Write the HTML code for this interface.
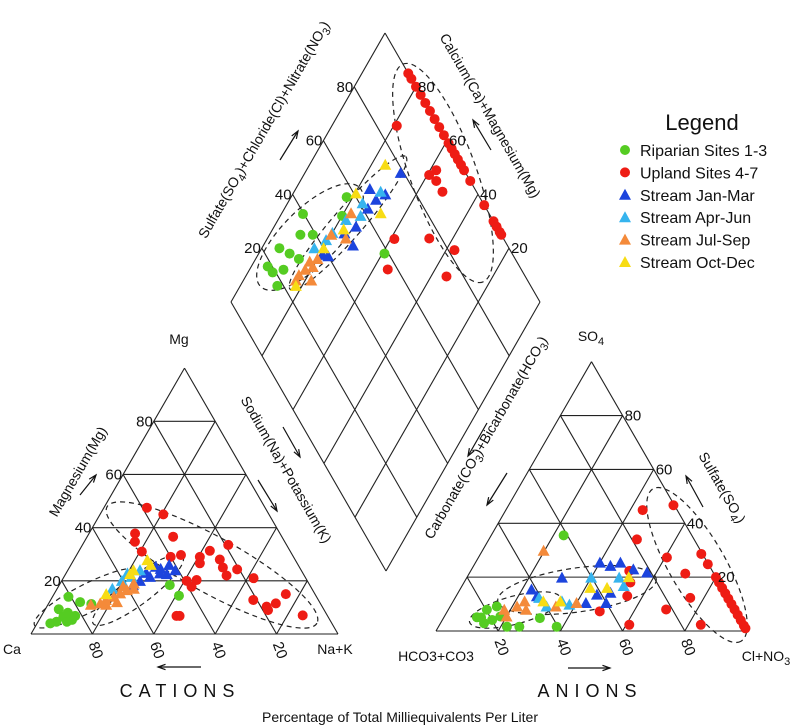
<!DOCTYPE html>
<html><head><meta charset="utf-8"><style>
body{margin:0;background:#fff;}
svg{display:block;font-family:"Liberation Sans",Arial,sans-serif;}
</style></head><body>
<svg id="c" width="800" height="728" viewBox="0 0 800 728"></svg>
<script>
// ---- Data (percentages) ----
// Cation triangle: [Na+K %, Mg %]
const catRiparian=[[36,18.4],[41,14.4],[5.2,14],[10,12],[14,11.3],[4.4,9.3],[7.3,6.5],[11,6.8],[4.3,4],[6,4.6],[10.7,5.3],[9.4,4.6],[8,8]];
const catUpland=[[14,47.5],[20.6,45],[15,37.8],[16.5,34.7],[28,36.6],[20.6,31],[31,29],[34,29.7],[40.5,29],[42.6,31.3],[41.7,26.6],[47.5,28],[47.5,33.5],[50,25],[52.7,22],[55,24.3],[40.7,20],[43.8,20.3],[43.4,17.8],[45,6.8],[44,6.8],[62,21],[66,12.8],[71.6,10.3],[74,11.5],[75.5,15],[85,7],[72.7,9]];
const catJanMar=[[28,21.5],[30.6,22.8],[32,26],[35,24],[33,22.5],[25.5,20],[24,18.4],[28,25.3],[26,23],[30,24.5]];
const catAprJun=[[20,22.8],[19.6,20],[22,21.5],[18,17],[23.5,24]];
const catJulSep=[[16.8,11.5],[18,12.8],[20,14],[21.4,15.3],[23,16.5],[24,19],[22,12],[19,11],[14,11],[21,18],[25,17]];
const catOctDec=[[24,27.8],[21,22.5],[21.4,24],[17,15],[26,26]];
// Anion triangle: [Cl+NO3 %, SO4 %]
const anRiparian=[[23.3,35.5],[10.6,5.1],[12.4,7.9],[15,9.1],[16,4.1],[22,1.6],[26,1.6],[31,4.8],[38,1.6],[14,2.9],[18,5.4],[12,5]];
const anUpland=[[44,44.9],[53,46.7],[47.6,34],[71,28.6],[75,24.8],[60.6,27.3],[69.5,21.3],[75.6,12.3],[70,8],[84,2.3],[61,2.3],[53.5,18],[55,13],[49,7.3],[51,22.3],[80,20],[82,18],[84,16],[86,14],[88,12],[90,10],[92,8],[94,6],[96,4],[98,2],[99,1]];
const anJanMar=[[40,25.4],[44,24.2],[46.6,25.4],[57,21.7],[30.6,19.8],[23,15.4],[26,12.9],[45,13.5],[49,14.2],[43,10.4],[49.5,10.4],[52,22.9]];
const anAprJun=[[40,19.8],[31,9.1],[38,9.8],[49,19.8],[52,16.7],[27,12.3],[35,11]];
const anJulSep=[[19.7,29.8],[20,5.4],[21.5,9.1],[25,7.9],[34,9.1],[40,10.4],[18,7.9],[23,11]];
const anOctDec=[[41.6,16],[47,16],[34.5,11],[52,20],[29,11]];
// Diamond: [SO4+Cl+NO3 %, Ca+Mg %]
const diaRiparian=[[58.7,59.3],[18.5,94.7],[25.7,94.3],[28,90],[39.7,93],[35,90],[39,86],[57,82],[52,80],[19,92],[18,88],[23,89],[30,86]];
const diaUpland=[[100,85],[100,83],[100,80],[100,77],[100,74],[100,71],[100,68],[100,65],[100,62],[100,59],[100,57],[100,55],[100,53],[100,51],[100,49],[100,45],[100,36],[100,30],[100,28],[100,26],[100,25],[86.5,79],[87.8,59.4],[91,58],[89,56],[89,52],[64.6,58.8],[76,47.6],[82,37.3],[56.8,55.3],[74.5,35]];
const diaJanMar=[[66,76],[70,70],[79,69],[66,72],[61.7,73],[54.5,73.5],[49.5,76],[50,71],[38.5,79],[40,77]];
const diaAprJun=[[69,72],[61,75.7],[52.5,78],[45.7,80],[42.3,80.7],[37,83],[58,74]];
const diaJulSep=[[55.4,77.6],[49,74.6],[45,80],[36,80],[33,80],[30,82],[27,83],[25,83],[30,78],[33,82]];
const diaOctDec=[[75.5,75.5],[60.7,79.7],[65,68],[50,77],[40,80],[24,82]];

const legendLabels=["Riparian Sites 1-3","Upland Sites 4-7","Stream Jan-Mar","Stream Apr-Jun","Stream Jul-Sep","Stream Oct-Dec"];
const ticks=[20,40,60,80];

// ---- geometry ----
const NS="http://www.w3.org/2000/svg";
const svg=document.getElementById('c');
function mk(tag,attrs,parent){const e=document.createElementNS(NS,tag);for(const k in attrs)e.setAttribute(k,attrs[k]);(parent||svg).appendChild(e);return e;}
const colors=["#55cc22","#ee1c14","#1c44dd","#36b4ee","#f48a3a","#f7dc14"];
const shapes=["c","c","t","t","t","t"];

const L={x0:31,y0:634,w:307}; L.h=L.w*0.866;
const R={x0:436,y0:631,w:311}; R.h=R.w*0.866;
const D={bx:386,by:571,rx:154,ry:-269,lx:-155,ly:-269};

function triXY(T,a,b){ // a = right-axis %, b = top %
  return [T.x0+T.w*(a/100+b/200), T.y0-T.h*b/100];}
function diaXY(u,v){return [D.bx+D.rx*u/100+D.lx*v/100, D.by+D.ry*u/100+D.ly*v/100];}

const grid=mk('g',{stroke:'#222','stroke-width':'1.1',fill:'none'});
function line(p,q,g){mk('line',{x1:p[0],y1:p[1],x2:q[0],y2:q[1]},g);}
function drawTri(T,name){
  const g=mk('g',{},grid);
  line(triXY(T,0,0),triXY(T,100,0),g);line(triXY(T,100,0),triXY(T,0,100),g);line(triXY(T,0,100),triXY(T,0,0),g);
  ticks.forEach(t=>{
    line(triXY(T,0,t),triXY(T,100-t,t),g);
    line(triXY(T,t,0),triXY(T,t,100-t),g);
    line(triXY(T,t,0),triXY(T,0,t),g);
  });
}
drawTri(L,'cation-triangle');drawTri(R,'anion-triangle');
(function(){
  const g=mk('g',{},grid);
  [0,20,40,60,80,100].forEach(t=>{line(diaXY(t,0),diaXY(t,100),g);line(diaXY(0,t),diaXY(100,t),g);});
})();

// ellipses (annotation)
const eg=mk('g',{fill:'none',stroke:'#222','stroke-width':'1.2','stroke-dasharray':'5,4'});
[[310,237,70,28,-45],[348,223,88,15,-49],[443,173,116,33,70],
 [212,565,120,28,29],[88,598,60,14,-27],[138,590,56,14,-37],
 [697,565,88,28,60],[577,590,80,22,-8],[515,610,47,14,-15]].forEach(e=>{
  const el=mk('ellipse',{cx:e[0],cy:e[1],rx:e[2],ry:e[3],transform:`rotate(${e[4]} ${e[0]} ${e[1]})`},eg);
  
  
});

function marker(x,y,k,g){
  let el;
  if(shapes[k]==='c'){el=mk('circle',{cx:x,cy:y,r:5,fill:colors[k]},g);}
  else{el=mk('polygon',{points:`${x},${y-6} ${x-6},${y+5} ${x+6},${y+5}`,fill:colors[k]},g);}
  return el;
}
function plotSeries(sets,fn,name){
  const g=mk('g',{});
  sets.forEach((s,k)=>s.forEach(p=>{const xy=fn(p[0],p[1]);const el=marker(xy[0],xy[1],k,g);
    
    }));
}
plotSeries([catRiparian,catUpland,catJanMar,catAprJun,catJulSep,catOctDec],(a,b)=>triXY(L,a,b),'cation-points');
plotSeries([anRiparian,anUpland,anJanMar,anAprJun,anJulSep,anOctDec],(a,b)=>triXY(R,a,b),'anion-points');
plotSeries([diaRiparian,diaUpland,diaJanMar,diaAprJun,diaJulSep,diaOctDec],diaXY,'diamond-points');

// text
function txt(s,x,y,o){o=o||{};const t=mk('text',{x:x,y:y,'font-size':o.fs||14,'text-anchor':o.a||'middle',fill:'#111'});
  if(o.r)t.setAttribute('transform',`rotate(${o.r} ${x} ${y})`);if(o.ls)t.setAttribute('letter-spacing',o.ls);
  t.innerHTML=s;return t;}
// cation ticks
ticks.forEach(t=>{const p=triXY(L,0,t);txt(String(t),p[0]-1,p[1]+5,{a:'end',fs:15,n:'mg-tick'});});
ticks.forEach(t=>{const p=triXY(L,100-t,0);txt(String(t),p[0]-4,p[1]+10,{a:'start',fs:15,r:70,n:'ca-tick'});});
// anion ticks
ticks.forEach(t=>{const p=triXY(R,100-t,t);txt(String(t),p[0]+2,p[1]+5,{a:'start',fs:15,n:'so4-tick'});});
ticks.forEach(t=>{const p=triXY(R,t,0);txt(String(t),p[0]-4,p[1]+10,{a:'start',fs:15,r:70,n:'cl-tick'});});
// diamond ticks
ticks.forEach(t=>{const p=diaXY(t,100);txt(String(t),p[0]-1,p[1]+5,{a:'end',fs:15,n:'diamond-left-tick'});});
ticks.forEach(t=>{const p=diaXY(100,t);txt(String(t),p[0]+2,p[1]+5,{a:'start',fs:15,n:'diamond-right-tick'});});

txt('Mg',179,344,{fs:14,n:'mg-vertex-label'});
txt('Ca',12,654,{fs:14,n:'ca-vertex-label'});
txt('Na+K',335,654,{fs:14,n:'nak-vertex-label'});
txt('SO<tspan baseline-shift="-4" font-size="11">4</tspan>',591,341,{fs:14,n:'so4-vertex-label'});
txt('HCO3+CO3',436,661,{fs:14,n:'hco3-vertex-label'});
txt('Cl+NO<tspan baseline-shift="-4" font-size="11">3</tspan>',766,661,{fs:14,n:'cl-vertex-label'});
txt('Magnesium(Mg)',82,474,{fs:14,r:-60,n:'magnesium-axis-title'});
txt('Sodium(Na)+Potassium(K)',282,472,{fs:14,r:60,n:'sodium-axis-title'});
txt('Sulfate(SO<tspan baseline-shift="-4" font-size="11">4</tspan>)',718,490,{fs:14,r:60,n:'sulfate-axis-title'});
txt('Carbonate(CO<tspan baseline-shift="-4" font-size="11">3</tspan>)+Bicarbonate(HCO<tspan baseline-shift="-4" font-size="11">3</tspan>)',490,440,{fs:14,r:-60,n:'carbonate-axis-title'});
txt('Sulfate(SO<tspan baseline-shift="-4" font-size="11">4</tspan>)+Chloride(Cl)+Nitrate(NO<tspan baseline-shift="-4" font-size="11">3</tspan>)',268,132,{fs:14,r:-60,n:'diamond-left-title'});
txt('Calcium(Ca)+Magnesium(Mg)',486,118,{fs:14,r:60,n:'diamond-right-title'});
txt('CATIONS',180,697,{fs:18,ls:'6',n:'cations-title'});
txt('ANIONS',590,697,{fs:18,ls:'6',n:'anions-title'});
txt('Percentage of Total Milliequivalents Per Liter',400,722,{fs:14,n:'bottom-title'});

// arrows
const ag=mk('g',{stroke:'#111','stroke-width':'1.2',fill:'none'});
function arrow(x1,y1,x2,y2){mk('line',{x1:x1,y1:y1,x2:x2,y2:y2},ag);
  const a=Math.atan2(y2-y1,x2-x1),s=8;
  mk('polyline',{points:`${x2-s*Math.cos(a-0.35)},${y2-s*Math.sin(a-0.35)} ${x2},${y2} ${x2-s*Math.cos(a+0.35)},${y2-s*Math.sin(a+0.35)}`},ag);}
arrow(201,667,158,667); arrow(568,668,610,668);
arrow(80,495,96,475); arrow(283,427,300,457); arrow(258,480,277,511);
arrow(487,423,468,456); arrow(507,473,487,505); arrow(703,507,686,476);
arrow(280,160,298,131); arrow(491,150,473,120);

// legend
const lg=mk('g',{});
const lt=mk('text',{x:702,y:130,'font-size':22,'text-anchor':'middle',fill:'#111'},lg);lt.textContent='Legend';

legendLabels.forEach((s,k)=>{const y=150+k*22.4;
  const m=marker(625,y,k,lg);
  const t=mk('text',{x:640,y:y+6,'font-size':16,fill:'#111'},lg);t.textContent=s;
  });
</script>
</body></html>
